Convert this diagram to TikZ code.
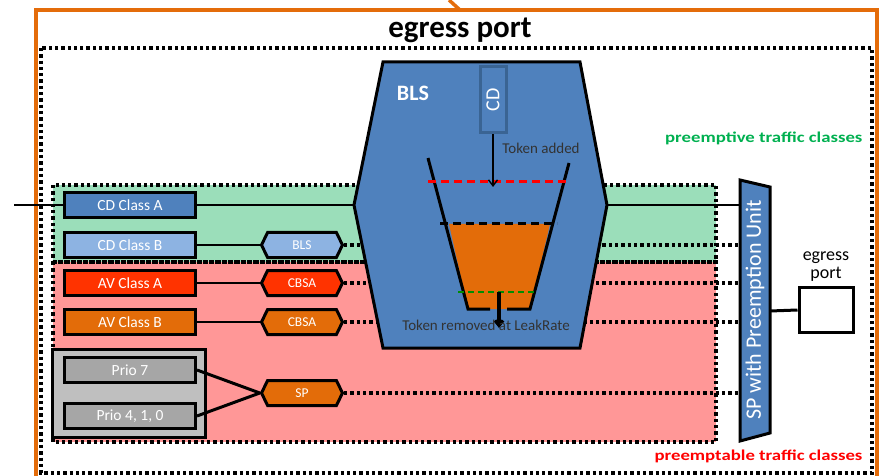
\documentclass[tikz,border=0pt]{standalone}
\usepackage{fontspec}
\setmainfont{Carlito}
\usetikzlibrary{shapes.symbols,arrows.meta}
\definecolor{frameorange}{HTML}{E46C0A}
\definecolor{cdblue}{HTML}{4F81BD}
\definecolor{cdlight}{HTML}{8DB3E2}
\definecolor{cddark}{HTML}{3A6493}
\definecolor{avred}{HTML}{FF3300}
\definecolor{avorange}{HTML}{E36C09}
\definecolor{priogray}{HTML}{A6A6A6}
\definecolor{grpgray}{HTML}{BFBFBF}
\definecolor{zonegreen}{HTML}{9BDEBA}
\definecolor{zonered}{HTML}{FF9797}
\definecolor{txtgreen}{HTML}{00B050}
\definecolor{txtred}{HTML}{FF0000}
\begin{document}
\begin{tikzpicture}[x=1pt,y=-1pt,
    clsbox/.style={draw=black, line width=3pt, minimum width=131pt, minimum height=25pt,
        inner sep=0pt, text=white, font=\fontsize{15.5}{16}\selectfont},
    hexbox/.style={signal, signal to=east and west, signal pointer angle=128, draw=black,
        line width=3pt, minimum width=81pt, minimum height=25pt, inner sep=0pt,
        text=white, font=\fontsize{13.5}{14}\selectfont},
    dotline/.style={line width=3.2pt, dash pattern=on 3.3pt off 3pt},
    wire/.style={line width=2.6pt}]
    \useasboundingbox (0,0) rectangle (879,476);

    % Rahmen
    \draw[frameorange, line width=3.5pt] (36,476) -- (36,10) -- (877,10) -- (877,476);
    \draw[frameorange, line width=3.5pt] (449,0) -- (460,10);
    \draw[dotline, line width=3.6pt] (41,48) rectangle (872,473);
    \node[font=\fontsize{31}{32}\bfseries] (title) at (460,30) {egress port};

    % Bereiche
    \fill[zonegreen] (53,185) rectangle (716,262);
    \fill[zonered] (53,262) rectangle (716,442);
    \draw[dotline] (53,185) rectangle (716,262);
    \draw[dotline] (53,262) rectangle (716,442);

    % Klassen
    \node[clsbox, fill=cdblue] (cda) at (130,205) {CD Class A};
    \node[clsbox, fill=cdlight] (cdb) at (130,245) {CD Class B};
    \node[clsbox, fill=avred] (ava) at (130,283) {AV Class A};
    \node[clsbox, fill=avorange] (avb) at (130,322) {AV Class B};
    \node[draw=black, line width=3pt, fill=grpgray, minimum width=153pt, minimum height=88pt] (prio) at (129,393) {};
    \node[clsbox, fill=priogray] (p7) at (130,370) {Prio 7};
    \node[clsbox, fill=priogray] (p410) at (130,416) {Prio 4, 1, 0};

    % Shaper
    \node[hexbox, fill=cdlight] (hbls) at (302,245) {BLS};
    \node[hexbox, fill=avred] (hcbsa) at (302,283) {CBSA};
    \node[hexbox, fill=avorange] (hcbsb) at (302,322) {CBSA};
    \node[hexbox, fill=avorange] (hsp) at (302,393) {SP};

    % SP mit Preemption
    \coordinate (spuw) at (740,300);
    \coordinate (spue) at (770,311);
    \foreach \h in {hbls,hcbsa,hcbsb,hsp}
        \draw[dotline] (\h.east) -- (\h.east -| spuw);

    % BLS
    \coordinate (blsw) at (354,205);
    \coordinate (blse) at (607,205);
    \draw[line width=3pt, fill=cdblue] (383,62) -- (580,62) -- (blse) -- (580,348) -- (383,348) -- (blsw) -- cycle;
    \node[text=white, font=\fontsize{22}{23}\bfseries] (blstxt) at (413,93) {BLS};
    \node[draw=cddark, line width=3pt, fill=cdblue, minimum width=26pt, minimum height=66pt,
        inner sep=0pt] (cdq) at (493,100) {};
    \node[rotate=90, text=white, font=\fontsize{20}{21}\selectfont] at (cdq) {CD};
    % Eimer
    \fill[avorange] (449,224) -- (550,224) -- (530,309) -- (468,309) -- cycle;
    \draw[line width=3pt] (428,158) -- (468,309) -- (490,309);
    \draw[line width=3pt] (569,163) -- (530,309) -- (507,309);
    \draw[red, line width=3pt, dash pattern=on 8pt off 5pt] (428,182) -- (569,182);
    \draw[line width=3pt, dash pattern=on 8pt off 5pt] (440,224) -- (557,224);
    \draw[green!55!black, line width=2.2pt, dash pattern=on 6pt off 4pt] (458,292) -- (537,292);
    \coordinate (tok) at (493,187);
    \draw[line width=1.4pt, -{Straight Barb[length=6pt,width=9pt]}] (cdq.south) -- (tok);
    \node[text=black!80, font=\fontsize{15}{16}\selectfont] (added) at (541,148) {Token added};
    \coordinate (leakin) at (499,292);
    \coordinate (leakout) at (499,328);
    \draw[line width=3.2pt, -{Straight Barb[length=5pt,width=8pt]}] (leakin) -- (leakout);
    \node[text=black!80, font=\fontsize{15}{16}\selectfont] (removed) at (486,325) {Token removed at LeakRate};

    % Verbindungen
    \coordinate (in) at (14,205);
    \draw[wire] (in) -- (cda.west);
    \draw[wire] (cda.east) -- (blsw);
    \draw[wire] (blse) -- (blse -| spuw);
    \draw[wire] (cdb.east) -- (hbls.west);
    \draw[wire] (ava.east) -- (hcbsa.west);
    \draw[wire] (avb.east) -- (hcbsb.west);
    \draw[wire, line width=3pt] (p7.east) -- (hsp.west);
    \draw[wire, line width=3pt] (p410.east) -- (hsp.west);

    \draw[line width=3pt, fill=cdblue] (740,180) -- (770,187) -- (770,433) -- (740,441) -- cycle;
    \node[rotate=90, text=white, font=\fontsize{22}{23}\selectfont] (sputxt) at (755,310) {SP with Preemption Unit};

    % Ausgang
    \node[draw=black, line width=3pt, minimum width=54pt, minimum height=45pt] (out) at (826,310) {};
    \node[align=center, font=\fontsize{18}{19}\selectfont, above=4pt, inner sep=0pt] (outtxt) at (out.north) {egress\\[-1pt]port};
    \draw[wire, line width=3pt] (spue) -- (out.west);

    \node[anchor=east, text=txtgreen, font=\fontsize{15}{16}\bfseries] (pe) at (866,138) {\scalebox{1.25}[1]{preemptive traffic classes}};
    \node[anchor=east, text=txtred, font=\fontsize{15}{16}\bfseries] (pa) at (866,456) {\scalebox{1.25}[1]{preemptable traffic classes}};
\end{tikzpicture}
\end{document}
